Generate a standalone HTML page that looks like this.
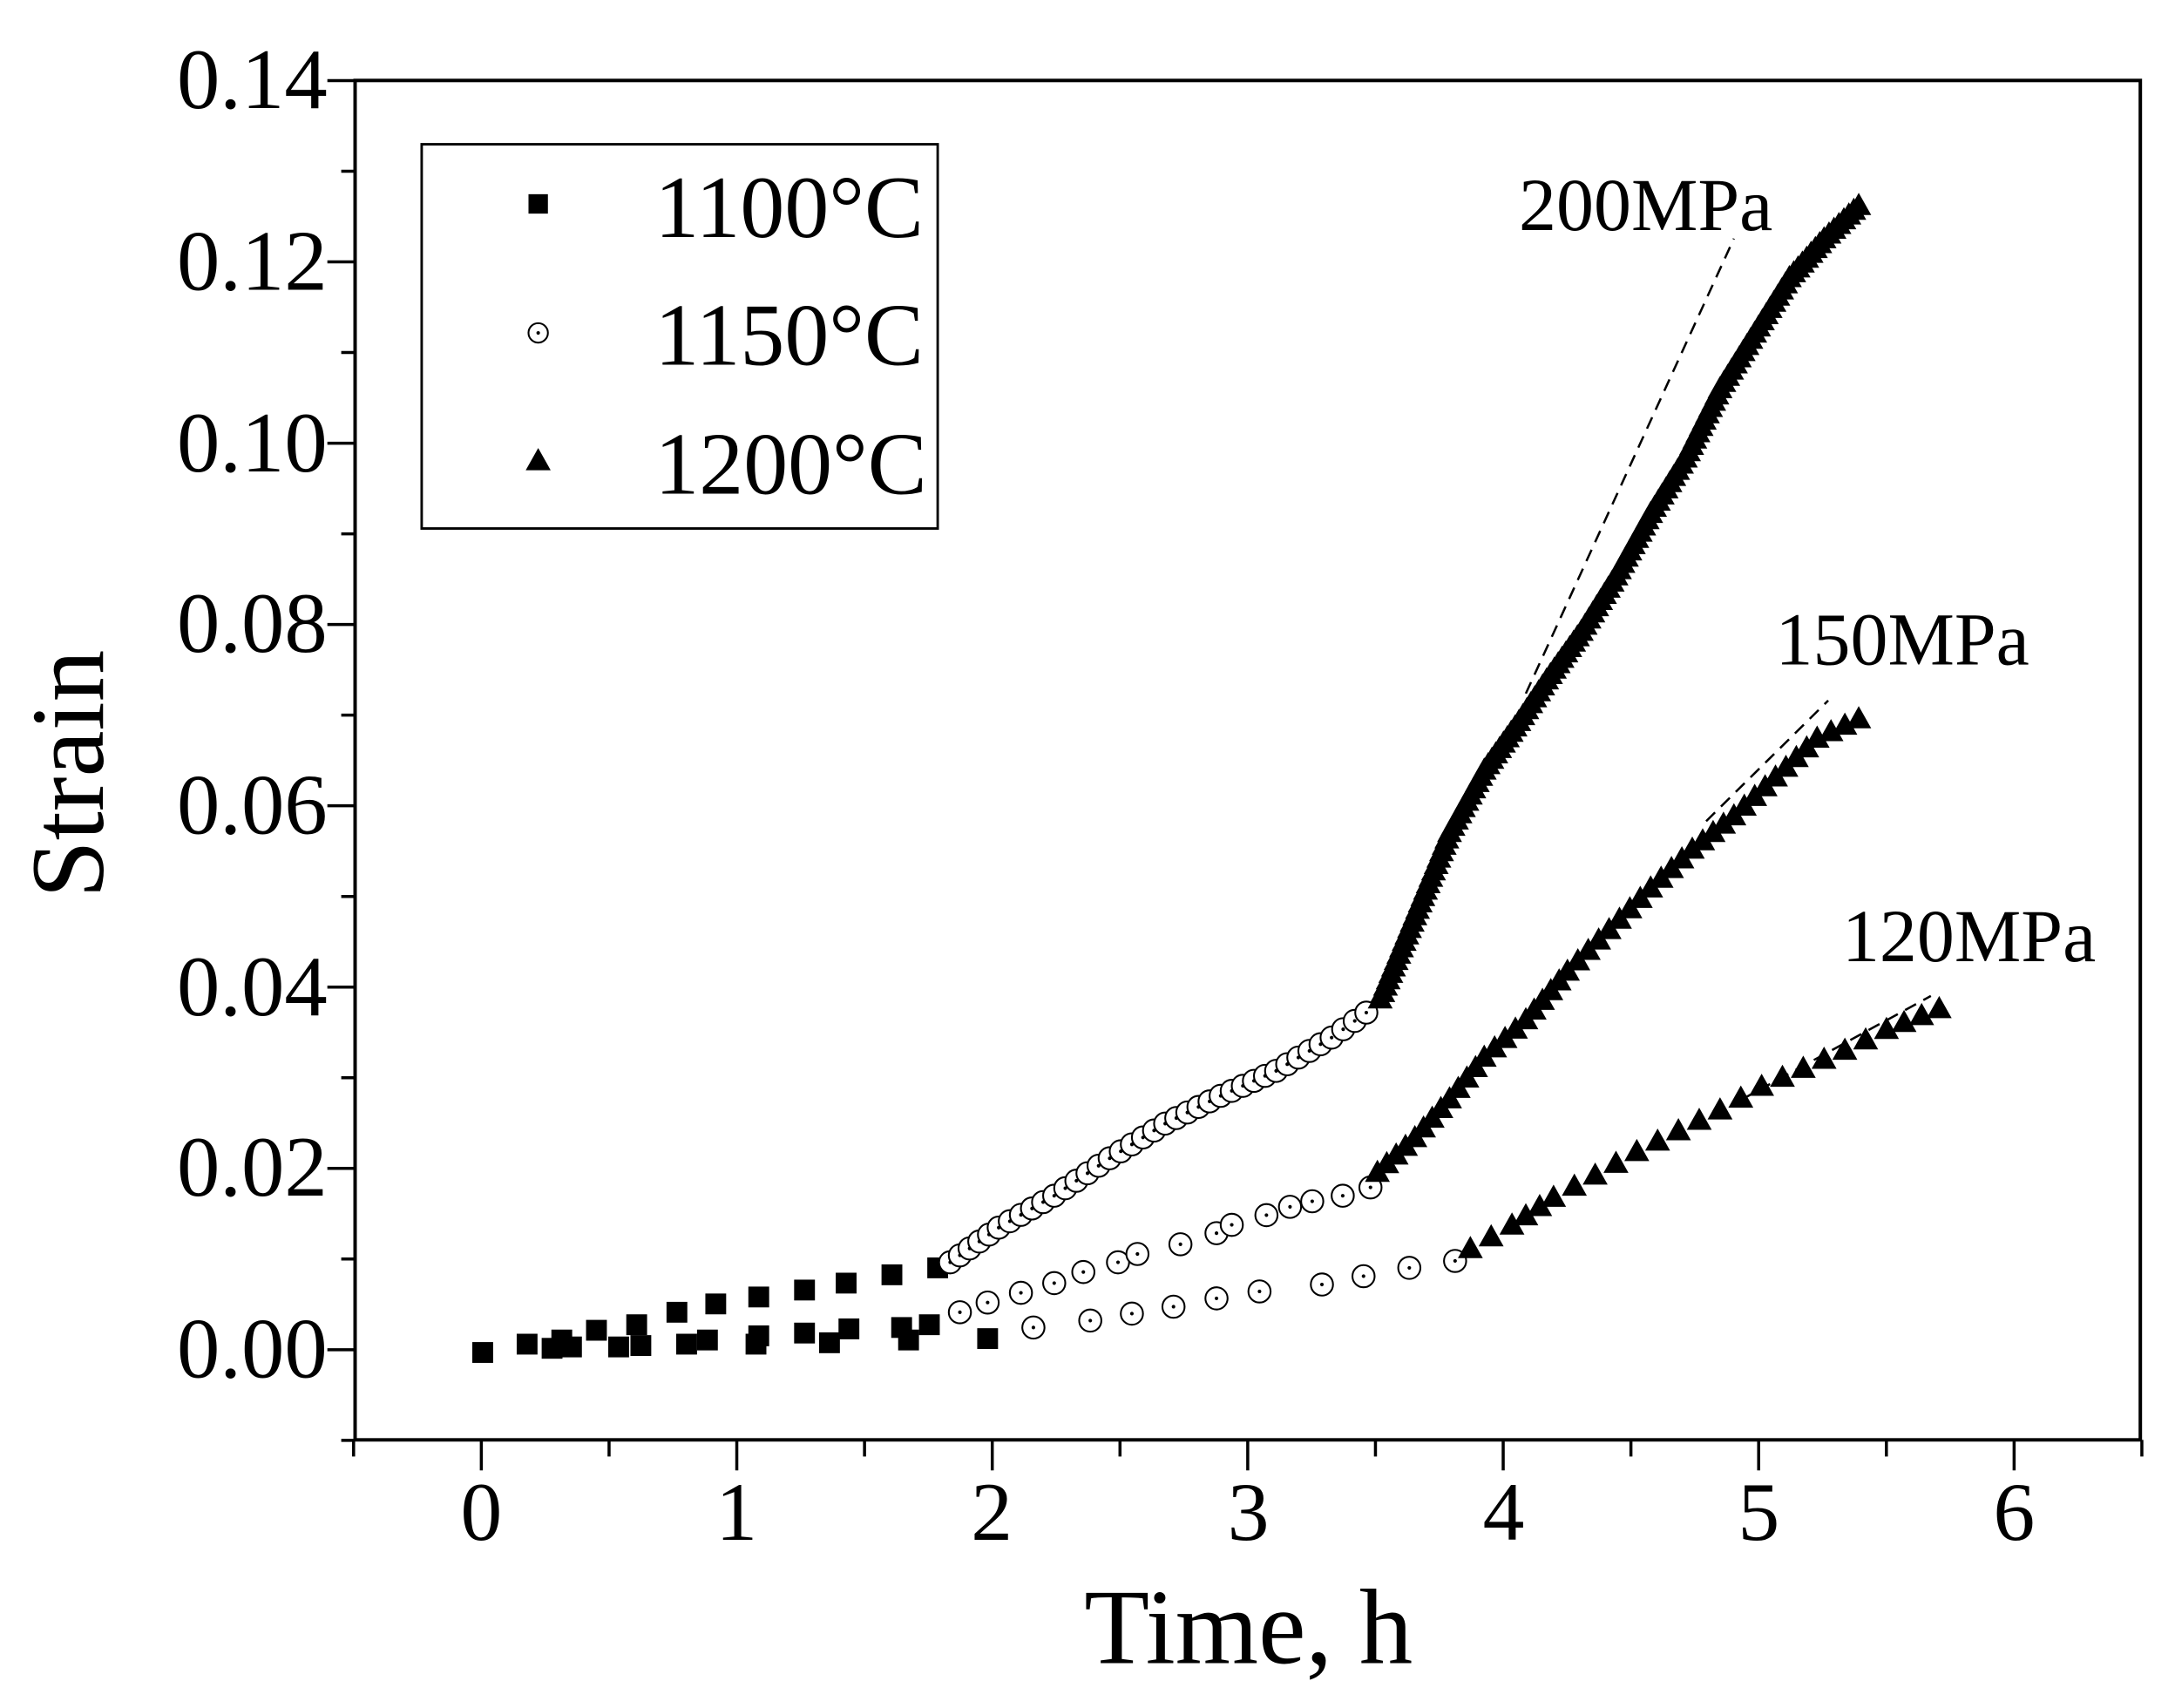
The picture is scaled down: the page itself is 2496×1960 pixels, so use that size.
<!DOCTYPE html>
<html><head><meta charset="utf-8"><style>
html,body{margin:0;padding:0;background:#fff;}
svg{display:block;}
text{font-family:"Liberation Serif",serif;fill:#000;}
</style></head><body>
<svg id="s" width="2496" height="1960" viewBox="0 0 1568 1231.3" preserveAspectRatio="none" xmlns="http://www.w3.org/2000/svg">
<rect x="0" y="0" width="1568" height="1232" fill="#fff"/>
<rect x="256" y="58" width="1287" height="980" fill="none" stroke="#000" stroke-width="2.5"/>
<g id="ticks" stroke="#000" stroke-width="2.2"></g>
<g font-size="62" text-anchor="end">
<text x="236" y="78">0.14</text><text x="236" y="209">0.12</text><text x="236" y="340">0.10</text>
<text x="236" y="470">0.08</text><text x="236" y="601">0.06</text><text x="236" y="732">0.04</text>
<text x="236" y="862">0.02</text><text x="236" y="993">0.00</text>
</g>
<g font-size="60" text-anchor="middle">
<text x="347" y="1110">0</text><text x="531" y="1110">1</text><text x="715" y="1110">2</text>
<text x="900" y="1110">3</text><text x="1084" y="1110">4</text><text x="1268" y="1110">5</text><text x="1452" y="1110">6</text>
</g>
<text x="900" y="1199" font-size="77" text-anchor="middle">Time, h</text>
<text transform="translate(74,558) rotate(-90)" font-size="75" text-anchor="middle">Strain</text>
<rect x="304" y="104" width="372" height="277" fill="#fff" stroke="#000" stroke-width="1.8"/>
<rect x="381" y="140" width="14" height="14" fill="#000"/>
<circle cx="388" cy="240" r="7" fill="#fff" stroke="#000" stroke-width="1.3"/><circle cx="388" cy="240" r="1.3" fill="#000"/>
<polygon points="388,323 397,339 379,339" fill="#000"/>
<g font-size="64"><text x="472" y="171">1100°C</text><text x="472" y="263">1150°C</text><text x="472" y="356">1200°C</text></g>
<g font-size="54"><text x="1095" y="166">200MPa</text><text x="1280" y="479">150MPa</text><text x="1328" y="693">120MPa</text></g>
<g stroke="#000" stroke-width="1.6" stroke-dasharray="9,6" fill="none">
<line x1="1100" y1="500" x2="1250" y2="172"/>
<line x1="1230" y1="592" x2="1318" y2="505"/>
<line x1="1255" y1="793" x2="1392" y2="718"/>
</g>
<g id="pts"></g>
</svg>
<script>
var NS="http://www.w3.org/2000/svg";
var tk=document.getElementById("ticks"),pts=document.getElementById("pts");
function el(n,a,p){var e=document.createElementNS(NS,n);for(var k in a)e.setAttribute(k,a[k]);(p||pts).appendChild(e);return e;}
for(var i=0;i<=15;i++){var v=-0.01+i*0.01;var yy=973-6535*v;if(yy<57)break;var major=(Math.round(v*100)%2==0);el("line",{x1:major?236:246,x2:256,y1:yy,y2:yy},tk);}
for(var t=-0.5;t<=6.51;t+=0.5){var x=347+184.17*t;var major=Math.abs(t-Math.round(t))<0.01;el("line",{x1:x,x2:x,y1:1038,y2:major?1060:1050},tk);}
function interp(path,step){var out=[];for(var i=0;i<path.length-1;i++){var a=path[i],b=path[i+1];var d=Math.hypot(b[0]-a[0],b[1]-a[1]);var n=Math.max(1,Math.round(d/step));for(var j=0;j<n;j++){var f=j/n;out.push([a[0]+(b[0]-a[0])*f,a[1]+(b[1]-a[1])*f]);}}out.push(path[path.length-1]);return out;}
var sq=[[348,975],[380,969],[398,972],[405,966],[412,971],[430,959],[446,971],[459,955],[462,970],[488,946],[495,969],[516,940],[510,966],[547,935],[545,969],[547,963],[580,930],[580,961],[598,968],[610,925],[612,958],[643,919],[650,957],[655,966],[670,955],[676,914],[712,965]];
sq.forEach(function(p){el("rect",{x:p[0]-7.5,y:p[1]-7.5,width:15,height:15,fill:"#000"});});
function circ(p){el("circle",{cx:p[0],cy:p[1],r:8,fill:"#fff",stroke:"#000","stroke-width":1.3});el("circle",{cx:p[0],cy:p[1],r:1.3,fill:"#000"});}
interp([[685,910],[720,885],[760,862],[800,835],[840,810],[880,790],[920,772],[960,748],[985,730]],9).forEach(circ);
[[692,946],[712,939],[736,932],[760,925],[781,917],[806,910],[820,904],[851,897],[877,889],[888,883],[913,876],[930,870],[946,866],[968,862],[988,856]].forEach(circ);
[[745,957],[786,952],[816,947],[846,942],[877,936],[908,931],[953,926],[983,920],[1016,914],[1049,909]].forEach(circ);
function tri(p){var x=p[0],y=p[1];el("polygon",{points:(x)+","+(y-9)+" "+(x+9)+","+(y+7)+" "+(x-9)+","+(y+7),fill:"#000"});}
interp([[995,720],[1020,660],[1045,600],[1070,555],[1095,520],[1115,490],[1140,455],[1165,415],[1190,370],[1215,330],[1240,280],[1265,240],[1290,200],[1315,172],[1340,148]],5).forEach(tri);
interp([[993,845],[1020,820],[1045,792],[1070,762],[1100,735],[1130,700],[1160,670],[1190,640],[1220,612],[1250,588],[1280,560],[1310,532],[1340,518]],10).forEach(tri);
interp([[1060,900],[1090,883],[1120,863],[1150,847],[1180,830],[1210,815],[1240,800],[1270,783],[1300,770],[1330,757],[1360,742],[1398,727]],14).forEach(tri);
</script>
</body></html>
